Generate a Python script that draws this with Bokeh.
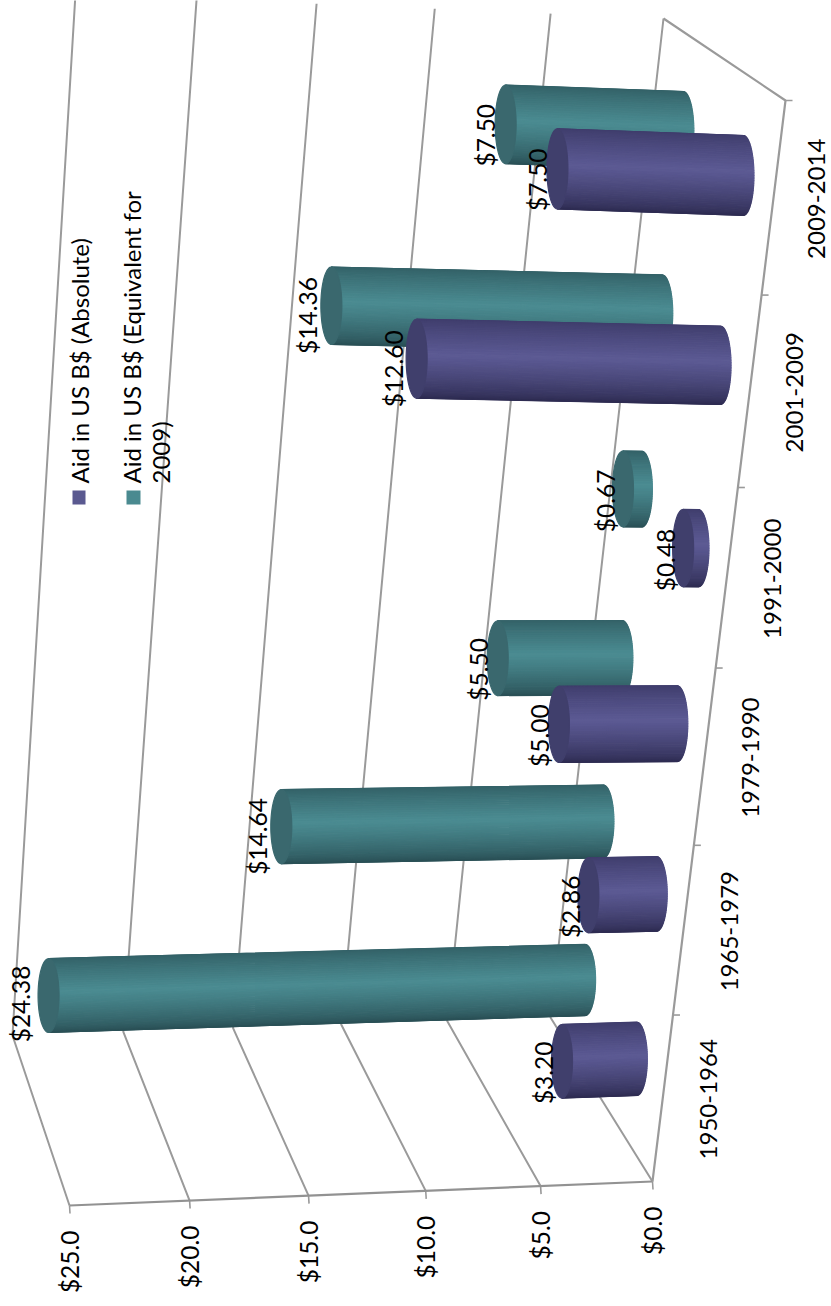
import numpy as np
from bokeh.core.properties import value
from bokeh.embed import file_html
from bokeh.models import ColumnDataSource, Range1d
from bokeh.plotting import figure
from bokeh.resources import INLINE

# ---- chart data
categories = ["1950-1964", "1965-1979", "1979-1990", "1991-2000", "2001-2009", "2009-2014"]
aid_absolute = [3.20, 2.86, 5.00, 0.48, 12.60, 7.50]
aid_equivalent = [24.38, 14.64, 5.50, 0.67, 14.36, 7.50]
value_ticks = [0, 5, 10, 15, 20, 25]
value_tick_labels = ["$0.0", "$5.0", "$10.0", "$15.0", "$20.0", "$25.0"]
legend_absolute = ["Aid in US B$ (Absolute)"]
legend_equivalent = ["Aid in US B$ (Equivalent for", "2009)"]

# ---- projection of the 3-D plot box (t along categories, d in depth, f along values)
FONT = "Lato"
GRID = "#9a9a9a"
CORNERS = {
    (0, 0, 0): (652, 1181), (0, 0, 1): (69, 1205),
    (0, 1, 0): (550, 1017), (0, 1, 1): (12, 1035),
    (1, 0, 0): (785, 100), (1, 0, 1): (140, 73),
    (1, 1, 0): (663, 18), (1, 1, 1): (75, -7),
}
CAT_STOPS = [0, .154, .311, .475, .642, .820, 1]      # perspective of category axis
VAL_STOPS = [0, .192, .389, .590, .794, 1]            # perspective of value axis


def cat_t(i):
    return float(np.interp(i, range(7), CAT_STOPS))


def val_f(v):
    return float(np.interp(v, value_ticks, VAL_STOPS))


def bar_f(v):
    # small perspective calibration of the cylinder tips along the value axis
    f = val_f(v)
    return f + float(np.interp(f, [0, .3, .58, 1], [.007, .007, -.002, -.005]))


def project(t, d, f):
    x = y = 0.0
    for (a, b, c), (px, py) in CORNERS.items():
        w = (t if a else 1 - t) * (d if b else 1 - d) * (f if c else 1 - f)
        x += w * px
        y += w * py
    return x, y


def mix(c0, c1, k):
    r = [int(round(a + (b - a) * k)) for a, b in zip(c0, c1)]
    return "#%02x%02x%02x" % tuple(r)


xs, ys, fills = [], [], []


def cylinder(cat, d, v, dark_top, dark_bot, light, cap):
    t = cat_t(cat + .5)
    f = bar_f(v)
    bx, by = project(t, d, 0)
    tx, ty = project(t, d, f)
    r0 = (36 + 4 * t) * (1 + (.5 - d) * .04)
    rb, rt = r0 * (1 - .01 * f), r0 * (1 + .03 * f * (1 - t))
    wid = 10.5
    n = 48
    ss = np.sin(np.linspace(-np.pi / 2, np.pi / 2, n + 1))
    for i in range(n):
        s0, s1 = ss[i], ss[i + 1]
        sm = (s0 + s1) / 2
        k = max(0.0, 1 - abs(sm + .08) / 1.08) ** .75
        col = mix(dark_top if sm < 0 else dark_bot, light, k)
        xs.append([tx, tx, bx + wid * np.sqrt(max(0, 1 - s1 ** 2)), bx + wid * np.sqrt(max(0, 1 - s0 ** 2))])
        ys.append([ty + rt * s0, ty + rt * s1, by + rb * s1, by + rb * s0])
        fills.append(col)
    a = np.linspace(0, 2 * np.pi, 60)
    xs.append(list(tx + wid * np.cos(a)))
    ys.append(list(ty + rt * np.sin(a)))
    fills.append(mix(cap, cap, 0))
    return tx, ty


TEAL = dict(dark_top=(44, 84, 90), dark_bot=(42, 80, 86), light=(75, 140, 146), cap=(58, 104, 110))
PURPLE = dict(dark_top=(54, 52, 96), dark_bot=(46, 44, 82), light=(92, 90, 148), cap=(64, 63, 108))

lab_x, lab_y, lab_t = [], [], []
for i in reversed(range(len(categories))):
    for vals, d, style in ((aid_equivalent, .75, TEAL), (aid_absolute, .25, PURPLE)):
        v = vals[i]
        tx, ty = cylinder(i, d, v, **style)
        lab_x.append(tx - 17 - .45 * v)
        lab_y.append(ty + 12 - .15 * v)
        lab_t.append("$%.2f" % v)

p = figure(width=831, height=1306, x_range=Range1d(0, 831), y_range=Range1d(1306, 0),
           output_backend="svg", toolbar_location=None, x_axis_location=None, y_axis_location=None,
           min_border=0, outline_line_color=None)
p.grid.visible = False

# walls
for v in value_ticks:
    f = val_f(v)
    pts = [project(0, 0, f), project(0, 1, f), project(1, 1, f)]
    p.line([q[0] for q in pts], [q[1] for q in pts], line_color=GRID, line_width=2)
    a = project(0, 0, f)
    p.segment([a[0]], [a[1]], [a[0] + .5], [a[1] + 8], line_color=GRID, line_width=1.6)
pts = [project(0, 0, 1), project(0, 0, 0)]
p.line([q[0] for q in pts], [q[1] for q in pts], line_color="#929292", line_width=2.2)
pts = [project(0, 0, 0), project(1, 0, 0), project(1, 1, 0)]
p.line([q[0] for q in pts], [q[1] for q in pts], line_color=GRID, line_width=2.2)
for i in range(1, 7):
    a = project(cat_t(i), 0, 0)
    p.segment([a[0]], [a[1]], [a[0] + 7], [a[1]], line_color=GRID, line_width=1.6)

src = ColumnDataSource(dict(xs=xs, ys=ys, c=fills))
p.patches("xs", "ys", source=src, fill_color="c", line_color="c", line_width=1.2)

common = dict(text_font=value(FONT), text_color="#000000", angle=np.pi / 2)

p.text(lab_x, lab_y, text=lab_t, text_align="center", text_baseline="middle", text_font_size="24.5px", **common)

tick_pts = [project(0, 0, val_f(v)) for v in value_ticks]
p.text([q[0] for q in tick_pts], [q[1] + 25 for q in tick_pts], text=value_tick_labels,
       text_align="right", text_baseline="middle", text_font_size="24.5px", **common)

cat_ts = [cat_t(i + .5) for i in range(6)]
cat_pts = [project(t, 0, 0) for t in cat_ts]
p.text([q[0] + 46 - 5 * t ** 4 for q, t in zip(cat_pts, cat_ts)], [q[1] + 1 for q in cat_pts], text=categories,
       text_align="center", text_baseline="middle", text_font_size="24px", **common)

# legend
p.quad(left=[72], right=[85], top=[490], bottom=[504], fill_color="#5a5990", line_color=None)
p.quad(left=[126], right=[140], top=[490], bottom=[504], fill_color="#4a8a90", line_color=None)
p.text([78.5], [483], text=legend_absolute, text_align="left", text_baseline="middle", text_font_size="24px", **common)
p.text([131, 160], [483, 483], text=legend_equivalent, text_align="left", text_baseline="middle", text_font_size="24px", **common)

open("out.html", "w").write(file_html(p, INLINE))
